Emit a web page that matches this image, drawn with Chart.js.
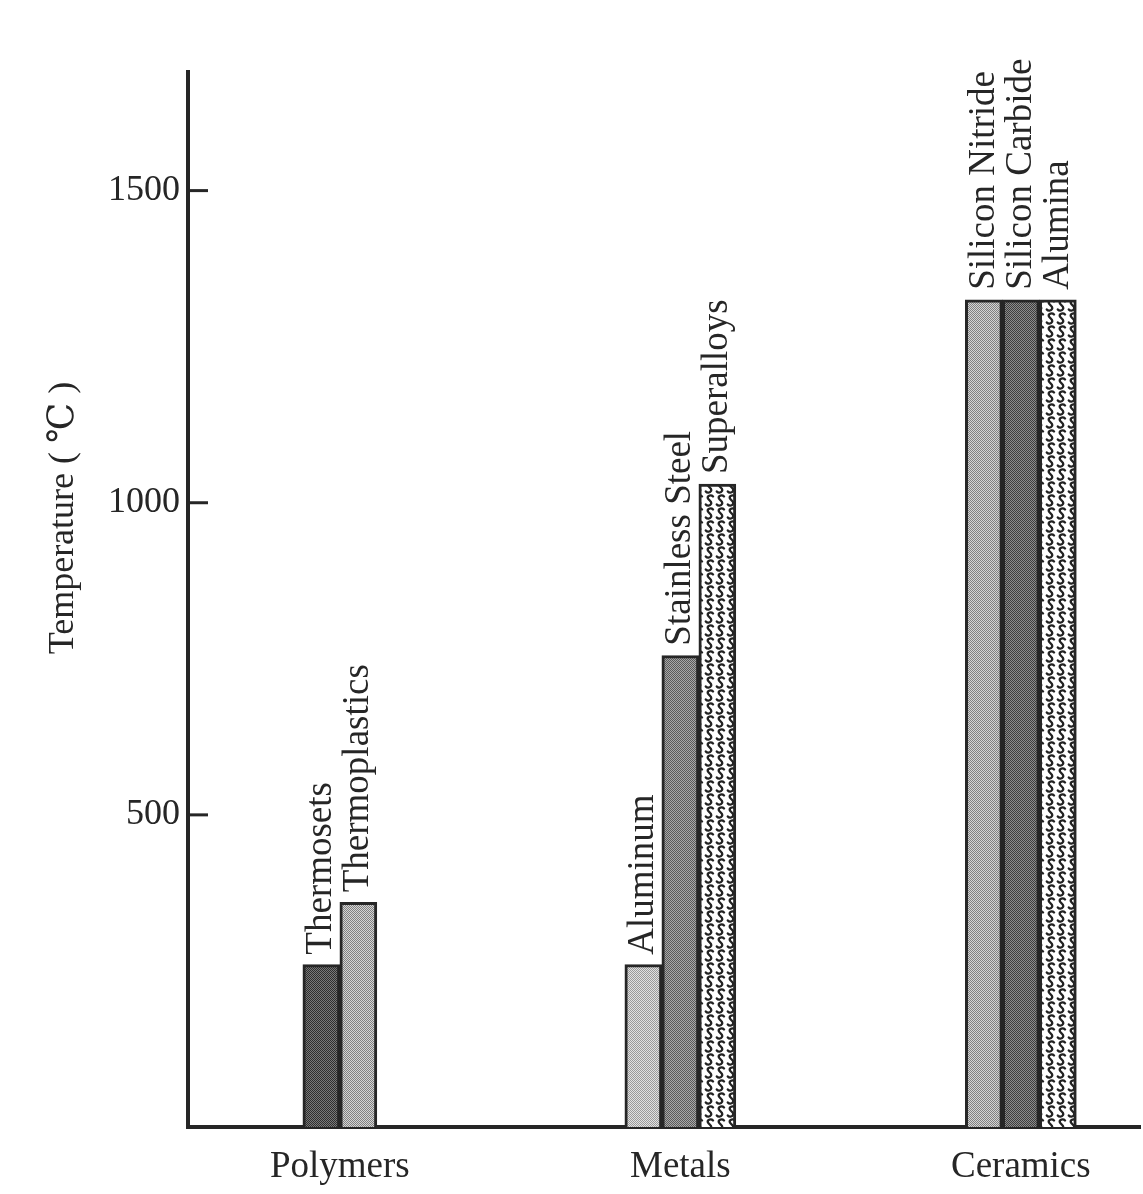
<!DOCTYPE html>
<html><head><meta charset="utf-8">
<script src="https://cdn.jsdelivr.net/npm/chart.js@4.4.1/dist/chart.umd.min.js"></script>
<style>html,body{margin:0;padding:0;background:#fff;}#wrap{width:1143px;height:1194px;}</style>
</head><body><div id="wrap"><canvas id="c" width="1143" height="1194"></canvas></div>
<script>
// ---- data ----
const categories = ['Polymers', 'Metals', 'Ceramics'];
const firstBarNames = ['Thermosets', 'Aluminum', 'Silicon Nitride'];
const firstBarValues = [260, 260, 1325];
const secondBarNames = ['Thermoplastics', 'Stainless Steel', 'Silicon Carbide'];
const secondBarValues = [360, 755, 1325];
const thirdBarNames = [null, 'Superalloys', 'Alumina'];
const thirdBarValues = [null, 1030, 1325];
const yTickValues = [500, 1000, 1500];
const yAxisTitle = 'Temperature ( \u2103 )';

// ---- styles ----
const FONT = '"Liberation Serif", "Times New Roman", "DejaVu Serif", serif';
const INK = '#262626';

function stipple(bg, dot) {
  const t = document.createElement('canvas'); t.width = 2; t.height = 2;
  const g = t.getContext('2d');
  g.fillStyle = bg; g.fillRect(0, 0, 2, 2);
  g.fillStyle = dot; g.fillRect(0, 0, 1, 1); g.fillRect(1, 1, 1, 1);
  return g.createPattern(t, 'repeat');
}
function squiggle() {
  const t = document.createElement('canvas'); t.width = 11; t.height = 13;
  const g = t.getContext('2d');
  g.fillStyle = '#fff'; g.fillRect(0, 0, 11, 13);
  g.strokeStyle = '#222';
  g.lineWidth = 2.3;
  g.lineCap = 'round';
  g.beginPath();
  g.moveTo(9, 2.5);
  g.bezierCurveTo(7.5, 0.8, 3, 1.2, 3.8, 4.2);
  g.bezierCurveTo(4.5, 6.5, 8.5, 7, 7, 10);
  g.bezierCurveTo(6, 12, 3, 12, 1.8, 10.5);
  g.stroke();
  return g.createPattern(t, 'repeat');
}
const P = {
  dark: stipple('#7a7a7a', '#2f2f2f'),
  light: stipple('#d4d4d4', '#808080'),
  lighter: stipple('#e2e2e2', '#9a9a9a'),
  mid: stipple('#a8a8a8', '#5a5a5a'),
  darkMid: stipple('#8c8c8c', '#3e3e3e'),
  sq: squiggle()
};
const firstFills = [P.dark, P.lighter, P.light];
const secondFills = [P.light, P.mid, P.darkMid];
const thirdFills = [P.sq, P.sq, P.sq];

function pts(values) {
  return categories.map((c, i) => ({ x: i + 1, y: values[i] }));
}
const barNames = [firstBarNames, secondBarNames, thirdBarNames];

const commonDs = { barThickness: 37, borderWidth: 3, borderColor: INK, skipNull: true, borderSkipped: 'bottom' };

const labelPlugin = {
  id: 'barNames',
  afterDatasetsDraw(chart) {
    const ctx = chart.ctx;
    ctx.save();
    ctx.fillStyle = INK;
    ctx.font = '37px ' + FONT;
    ctx.textAlign = 'left';
    ctx.textBaseline = 'middle';
    chart.data.datasets.forEach((ds, di) => {
      const meta = chart.getDatasetMeta(di);
      meta.data.forEach((el, j) => {
        const name = barNames[di][j];
        if (!name || ds.data[j].y == null) return;
        ctx.save();
        ctx.translate(el.x, el.y - 10);
        ctx.rotate(-Math.PI / 2);
        ctx.fillText(name, 0, 0);
        ctx.restore();
      });
    });
    ctx.restore();
  },
  afterDraw(chart) {
    const ctx = chart.ctx;
    const y = chart.scales.y;
    const left = chart.chartArea.left;
    ctx.save();
    ctx.strokeStyle = INK;
    ctx.lineWidth = 3;
    yTickValues.forEach(v => {
      const py = y.getPixelForValue(v);
      ctx.beginPath(); ctx.moveTo(left, py); ctx.lineTo(left + 20, py); ctx.stroke();
    });
    ctx.fillStyle = INK;
    ctx.font = '36px ' + FONT;
    ctx.textAlign = 'center';
    ctx.textBaseline = 'middle';
    ctx.translate(64, 518);
    ctx.rotate(-Math.PI / 2);
    ctx.fillText(yAxisTitle, 0, 0);
    ctx.restore();
  }
};

new Chart(document.getElementById('c'), {
  type: 'bar',
  data: {
    datasets: [
      Object.assign({ label: 'first', data: pts(firstBarValues), backgroundColor: firstFills }, commonDs),
      Object.assign({ label: 'second', data: pts(secondBarValues), backgroundColor: secondFills }, commonDs),
      Object.assign({ label: 'third', data: pts(thirdBarValues), backgroundColor: thirdFills }, commonDs)
    ]
  },
  options: {
    responsive: false,
    animation: false,
    devicePixelRatio: 1,
    layout: { padding: { top: 72, right: 3, left: 0, bottom: 0 } },
    plugins: { legend: { display: false }, tooltip: { enabled: false } },
    scales: {
      x: {
        type: 'linear',
        offset: false,
        bounds: 'ticks',
        min: 0.554, max: 3.35,
        grid: { display: false, drawTicks: false, offset: false },
        border: { display: true, color: INK, width: 4 },
        afterBuildTicks: s => { s.ticks = categories.map((c, i) => ({ value: i + 1 })); },
        afterFit: s => { s.height = 67; },
        ticks: {
          padding: 18, maxRotation: 0, autoSkip: false,
          color: INK, font: { family: FONT, size: 37 },
          callback: v => categories[Math.round(v) - 1] || ''
        }
      },
      y: {
        min: 0, max: 1690,
        grid: { display: false, drawTicks: false },
        border: { display: true, color: INK, width: 4 },
        afterBuildTicks: s => { s.ticks = yTickValues.map(v => ({ value: v })); },
        afterFit: s => { s.width = 188; },
        ticks: { padding: 8, color: INK, font: { family: FONT, size: 36 }, callback: v => String(v) }
      }
    }
  },
  plugins: [labelPlugin]
});
</script></body></html>
